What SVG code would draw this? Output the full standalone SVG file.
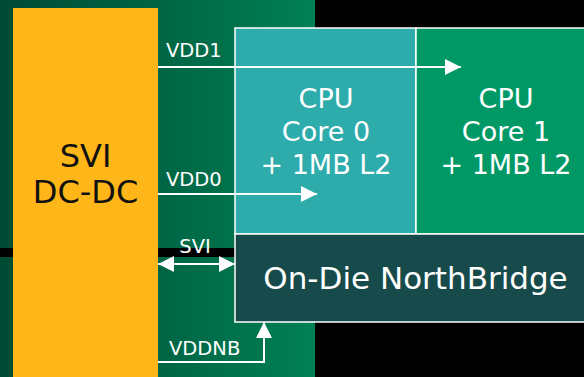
<svg xmlns="http://www.w3.org/2000/svg" width="584" height="377" viewBox="0 0 584 377">
<defs>
<linearGradient id="bg" x1="0" y1="0" x2="1" y2="0">
<stop offset="0" stop-color="#004a33"/>
<stop offset="1" stop-color="#008055"/>
</linearGradient>
<marker id="ah" viewBox="0 0 16 16" markerWidth="16" markerHeight="16" refX="16" refY="8" orient="auto" markerUnits="userSpaceOnUse">
<path d="M0,0 L16,8 L0,16 Z" fill="#fff"/>
</marker>
<marker id="ahs" viewBox="0 0 16 16" markerWidth="16" markerHeight="16" refX="0" refY="8" orient="auto" markerUnits="userSpaceOnUse">
<path d="M16,0 L0,8 L16,16 Z" fill="#fff"/>
</marker>
</defs>
<style>
.lbl{font-family:"DejaVu Sans","Verdana",sans-serif;fill:#fff;font-size:19.5px}
.big{font-family:"DejaVu Sans","Verdana",sans-serif;fill:#fff;font-size:27px;text-anchor:middle}
.wire{stroke:#fff;stroke-width:2;fill:none}
.box{stroke:#fff;stroke-width:1.5}
</style>
<rect x="0" y="0" width="584" height="377" fill="#000"/>
<rect x="0" y="0" width="315" height="377" fill="url(#bg)"/>
<rect x="0" y="248" width="235" height="9" fill="#000"/>
<g id="svi-dcdc">
<rect x="13" y="8" width="145" height="369" fill="#ffb618"/>
<text x="85.5" y="167" font-family="DejaVu Sans, Verdana, sans-serif" font-size="32" fill="#111" text-anchor="middle">SVI</text>
<text x="85.5" y="203" font-family="DejaVu Sans, Verdana, sans-serif" font-size="32" fill="#111" text-anchor="middle">DC-DC</text>
</g>
<g id="core0">
<rect class="box" x="235" y="28" width="181" height="206" fill="#2eabab"/>
<text class="big" x="326" y="107.5">CPU</text>
<text class="big" x="326" y="140.5">Core 0</text>
<text class="big" x="326" y="173.5">+ 1MB L2</text>
</g>
<g id="core1">
<rect class="box" x="416" y="28" width="180" height="206" fill="#009966"/>
<text class="big" x="506" y="107.5">CPU</text>
<text class="big" x="506" y="140.5">Core 1</text>
<text class="big" x="506" y="173.5">+ 1MB L2</text>
</g>
<g id="northbridge">
<rect class="box" x="235" y="234" width="361" height="88" fill="#174b4b"/>
<text class="big" x="415.5" y="289" style="font-size:31px">On-Die NorthBridge</text>
</g>
<g id="connectors">
<line class="wire" x1="158" y1="67" x2="461" y2="67" marker-end="url(#ah)"/>
<text class="lbl" x="166" y="57">VDD1</text>
<line class="wire" x1="158" y1="194" x2="317" y2="194" marker-end="url(#ah)"/>
<text class="lbl" x="166" y="186">VDD0</text>
<line class="wire" x1="158" y1="264" x2="235" y2="264" marker-start="url(#ahs)" marker-end="url(#ah)"/>
<text class="lbl" x="195" y="253" text-anchor="middle">SVI</text>
<polyline class="wire" points="158,362 264,362 264,322" marker-end="url(#ah)"/>
<text class="lbl" x="169" y="355">VDDNB</text>
</g>
</svg>
